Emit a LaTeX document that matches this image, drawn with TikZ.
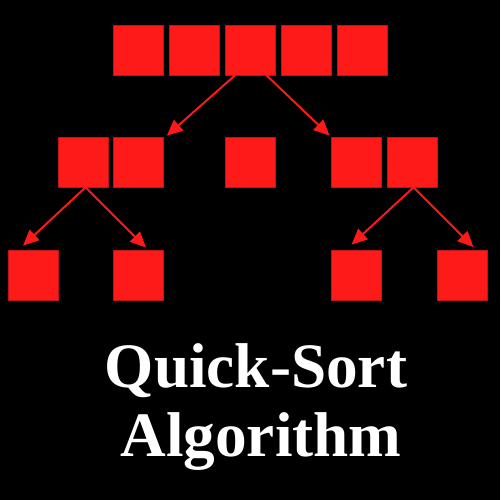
\documentclass[tikz,border=0pt]{standalone}
\usepackage{fontspec}
\setmainfont{Liberation Serif}
\usetikzlibrary{arrows.meta}
\definecolor{boxred}{RGB}{255,26,26}
\definecolor{boxedge}{RGB}{190,20,20}

\begin{document}
\begin{tikzpicture}[x=0.02cm,y=0.02cm,
	cell/.style={draw=boxedge,line width=0.4pt,fill=boxred,inner sep=0pt,minimum size=1cm},
	split/.style={draw=boxred,line width=1.1pt,-{Triangle[length=9pt,width=8pt]}}]
	\fill[black] (0,0) rectangle (500,500);
	\node[cell] (t1) at (138,450) {};
	\node[cell] (t2) at (194,450) {};
	\node[cell] (t3) at (250,450) {};
	\node[cell] (t4) at (306,450) {};
	\node[cell] (t5) at (362,450) {};
	\node[cell] (m1) at (83,338) {};
	\node[cell] (m2) at (138,338) {};
	\node[cell] (m3) at (250,338) {};
	\node[cell] (m4) at (356,338) {};
	\node[cell] (m5) at (412,338) {};
	\node[cell] (b1) at (33,225) {};
	\node[cell] (b2) at (138,225) {};
	\node[cell] (b3) at (356,225) {};
	\node[cell] (b4) at (462,225) {};
	\draw[split] ([xshift=-0.3cm]t3.south) -- ([xshift=0.07cm,yshift=0.02cm]m2.north east);
	\draw[split] ([xshift=0.33cm]t3.south) -- ([xshift=-0.02cm,yshift=0.02cm]m4.north west);
	\draw[split] ([xshift=0.05cm]m1.south) -- ([xshift=-0.2cm,yshift=0.08cm]b1.north);
	\draw[split] ([xshift=0.05cm]m1.south) -- ([xshift=0.16cm,yshift=0.04cm]b2.north);
	\draw[split] ([xshift=0.03cm]m5.south) -- ([xshift=-0.09cm,yshift=0.1cm]b3.north);
	\draw[split] ([xshift=0.03cm]m5.south) -- ([xshift=0.23cm,yshift=0.05cm]b4.north);
	\node[anchor=base,text=white,font=\fontsize{36}{40}\selectfont\bfseries,inner sep=0pt] (qs) at (256,112) {Quick-Sort};
	\node[anchor=base,text=white,font=\fontsize{36}{40}\selectfont\bfseries,inner sep=0pt] (alg) at (261,43) {Algorithm};
\end{tikzpicture}
\end{document}
